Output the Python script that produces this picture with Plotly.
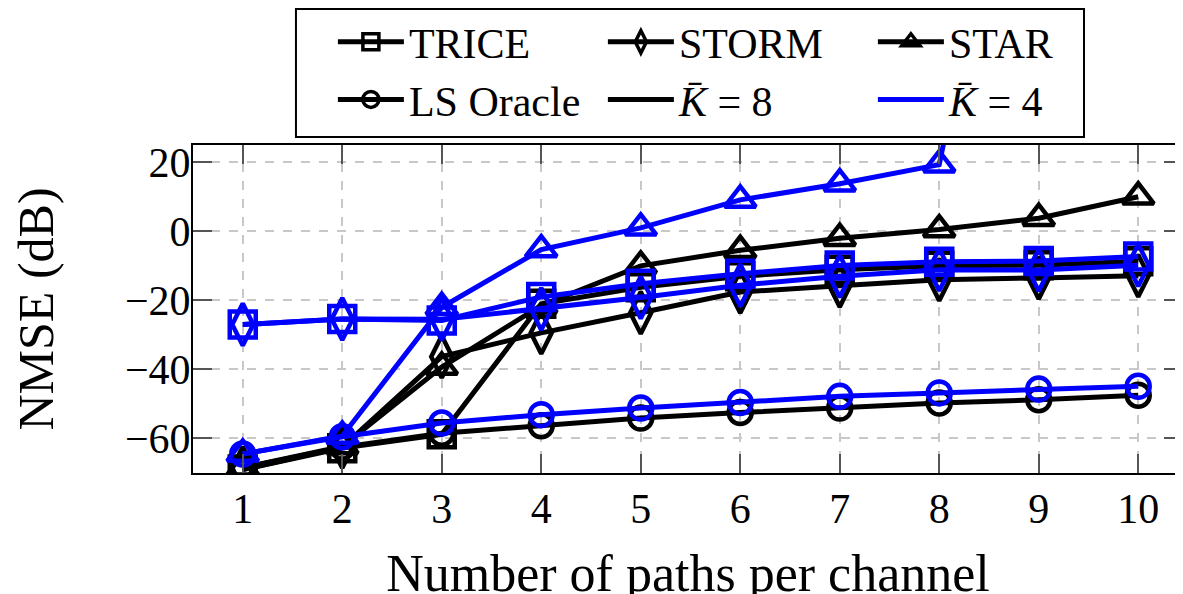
import plotly.graph_objects as go

# ---------------- data ----------------
paths = [1, 2, 3, 4, 5, 6, 7, 8, 9, 10]

# K-bar = 8 (black)
trice_k8 = [-69.0, -62.8, -58.8, -21.0, -16.2, -13.0, -11.1, -10.0, -9.8, -8.7]
storm_k8 = [-68.5, -62.5, -36.3, -29.4, -23.6, -17.6, -15.8, -14.0, -13.5, -12.9]
star_k8 = [-68.5, -62.3, -39.3, -21.5, -10.0, -5.5, -2.0, 0.5, 3.8, 10.0]
ls_k8 = [-69.0, -62.5, -58.5, -56.3, -54.1, -52.5, -51.2, -49.7, -48.8, -47.5]

# K-bar = 4 (blue)
trice_k4 = [-27.0, -25.4, -25.8, -19.0, -15.2, -12.3, -9.9, -8.8, -8.6, -7.3]
storm_k4 = [-27.0, -25.4, -25.5, -22.5, -19.2, -15.6, -13.0, -11.1, -11.2, -9.8]
star_k4 = [-64.5, -59.3, -22.0, -5.3, 1.0, 9.1, 13.8, 19.3, 160.0, 180.0]
ls_k4 = [-64.5, -59.5, -55.5, -53.1, -51.2, -49.6, -47.8, -46.8, -45.7, -44.9]

y_ticks = [-60, -40, -20, 0, 20]

method_names = ["TRICE", "STORM", "STAR", "LS Oracle"]
k_names = ["<i>K̄</i> = 8", "<i>K̄</i> = 4"]

# ---------------- styles ----------------
BLACK = "#000000"
BLUE = "#0000FF"
FONT = "Liberation Serif, serif"
symbols = {
    "TRICE": ("square-open", 26),
    "STORM": ("diamond-tall-open", 30),
    "STAR": ("triangle-up-open", 27),
    "LS Oracle": ("circle-open", 23),
}

fig = go.Figure()

series = [
    (BLACK, [trice_k8, storm_k8, star_k8, ls_k8]),
    (BLUE, [trice_k4, storm_k4, star_k4, ls_k4]),
]
for color, vals in series:
    for name, ys in zip(method_names, vals):
        sym, sz = symbols[name]
        fig.add_trace(go.Scatter(
            x=paths, y=ys, mode="lines+markers",
            line=dict(color=color, width=5),
            marker=dict(symbol=sym, size=sz, color=color,
                        line=dict(color=color, width=4.5)),
            showlegend=False, cliponaxis=True,
        ))

# legend-only entries
for name in method_names:
    sym, sz = symbols[name]
    fig.add_trace(go.Scatter(
        x=[None], y=[None], mode="lines+markers", name=name,
        line=dict(color=BLACK, width=5),
        marker=dict(symbol=sym, size=16, color=BLACK,
                    line=dict(color=BLACK, width=3.5)),
    ))
for name, color in zip(k_names, [BLACK, BLUE]):
    fig.add_trace(go.Scatter(
        x=[None], y=[None], mode="lines", name=name,
        line=dict(color=color, width=5),
    ))

# legend frame (drawn as a shape so that it can have inner padding)
fig.add_shape(type="rect", xref="paper", yref="paper",
              x0=0.104, x1=0.900, y0=1.0244, y1=1.4146,
              line=dict(color="black", width=2), fillcolor="white",
              layer="below")

# page body has an 8px margin: figure is offset by (8, 8) on screen
fig.update_layout(
    width=1183, height=594,
    margin=dict(l=185, r=8, t=137, b=129),
    paper_bgcolor="white", plot_bgcolor="white",
    font=dict(family=FONT, color="black", size=42),
    showlegend=True,
    legend=dict(
        orientation="h", x=0.1413, xanchor="left",
        yref="container", y=1.0, yanchor="top",
        bgcolor="rgba(0,0,0,0)", borderwidth=0,
        font=dict(family=FONT, size=42, color="black"),
        entrywidth=189, entrywidthmode="pixels",
        itemwidth=66, tracegroupgap=0,
    ),
    xaxis=dict(
        range=[0.5, 10.45], tickmode="array", tickvals=paths,
        ticks="inside", ticklen=19, tickwidth=1.5, tickcolor="#555555",
        showline=True, linecolor="black", linewidth=2, mirror="ticks",
        showgrid=True, gridcolor="#c8c8c8", gridwidth=1.5, griddash="dash",
        zeroline=False, ticklabelstandoff=-2, automargin=False,
        tickfont=dict(family=FONT, size=42),
        title=dict(text="Number of paths per channel", standoff=36,
                   font=dict(family=FONT, size=52)),
    ),
    yaxis=dict(
        range=[-70, 25], tickmode="array", tickvals=y_ticks,
        ticks="inside", ticklen=19, tickwidth=1.5, tickcolor="#555555",
        showline=True, linecolor="black", linewidth=2, mirror="ticks",
        showgrid=True, gridcolor="#c8c8c8", gridwidth=1.5, griddash="dash",
        zeroline=False, ticklabelstandoff=-8, automargin=False,
        tickfont=dict(family=FONT, size=42),
        title=dict(text="NMSE (dB)", standoff=74,
                   font=dict(family=FONT, size=50)),
    ),
)

fig.write_html("out.html")
